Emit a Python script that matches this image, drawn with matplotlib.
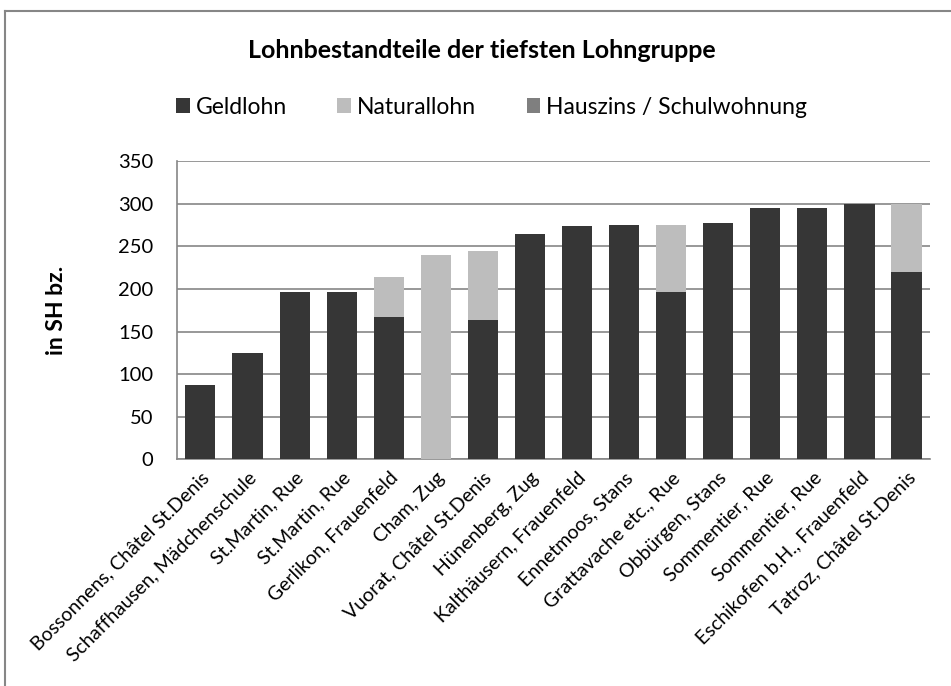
import matplotlib
matplotlib.use('Agg')
import matplotlib.pyplot as plt
import numpy as np

# Data
orte = ['Bossonnens, Châtel St.Denis', 'Schaffhausen, Mädchenschule', 'St.Martin, Rue',
        'St.Martin, Rue', 'Gerlikon, Frauenfeld', 'Cham, Zug', 'Vuorat, Châtel St.Denis',
        'Hünenberg, Zug', 'Kalthäusern, Frauenfeld', 'Ennetmoos, Stans',
        'Grattavache etc., Rue', 'Obbürgen, Stans', 'Sommentier, Rue', 'Sommentier, Rue',
        'Eschikofen b.H., Frauenfeld', 'Tatroz, Châtel St.Denis']
geldlohn = [87, 125, 196, 196, 167, 0, 164, 264, 274, 275, 196, 278, 295, 295, 300, 220]
naturallohn = [0, 0, 0, 0, 47, 240, 80, 0, 0, 0, 79, 0, 0, 0, 0, 80]
hauszins = [0, 0, 0, 0, 0, 0, 0, 0, 0, 0, 0, 0, 0, 0, 0, 0]

plt.rcParams['font.family'] = ['Lato', 'DejaVu Sans']

fig = plt.figure(figsize=(9.51, 6.86), dpi=100)
ax = fig.add_axes([0.186, 0.3305, 0.792, 0.4345])

x = np.arange(len(orte))
geld = np.array(geldlohn)
natur = np.array(naturallohn)
haus = np.array(hauszins)
w = 0.64
ax.bar(x, geld, w, color='#363636', label='Geldlohn', zorder=3)
ax.bar(x, natur, w, bottom=geld, color='#bdbdbd', label='Naturallohn', zorder=3)
ax.bar(x, haus, w, bottom=geld + natur, color='#7f7f7f', label='Hauszins / Schulwohnung', zorder=3)

ax.set_xlim(-0.5, len(orte) - 0.5)
ax.set_ylim(0, 350)
ax.set_yticks(range(0, 351, 50))
ax.yaxis.grid(True, color='#868686', linewidth=1.2, zorder=0)
for s in ['top', 'right']:
    ax.spines[s].set_visible(False)
for s in ['left', 'bottom']:
    ax.spines[s].set_color('#868686')
    ax.spines[s].set_linewidth(1.2)
ax.tick_params(axis='y', length=0, labelsize=14.5, pad=17)
ax.tick_params(axis='x', length=0, labelsize=14, pad=7)
ax.set_xticks(x)
ax.set_xticklabels(orte, rotation=45, ha='right', rotation_mode='anchor')
ax.set_ylabel('in SH bz.', fontsize=16.5, fontweight='bold')
ax.yaxis.set_label_coords(-0.146, 0.5)

fig.text(0.507, 0.926, 'Lohnbestandteile der tiefsten Lohngruppe', ha='center', va='center',
         fontsize=18, fontweight='bold')
fig.legend(loc='center', bbox_to_anchor=(0.517, 0.844), ncol=3, frameon=False, fontsize=16.5,
           handlelength=0.6, handleheight=0.6, handletextpad=0.25, columnspacing=2.2)

# outer chart border (top and left visible)
fig.add_artist(plt.Line2D([0.0055, 0.0055], [0, 0.984], color='#868686', lw=1.5))
fig.add_artist(plt.Line2D([0.0055, 1.0], [0.984, 0.984], color='#868686', lw=1.5))

fig.savefig('out.png', dpi=100)
